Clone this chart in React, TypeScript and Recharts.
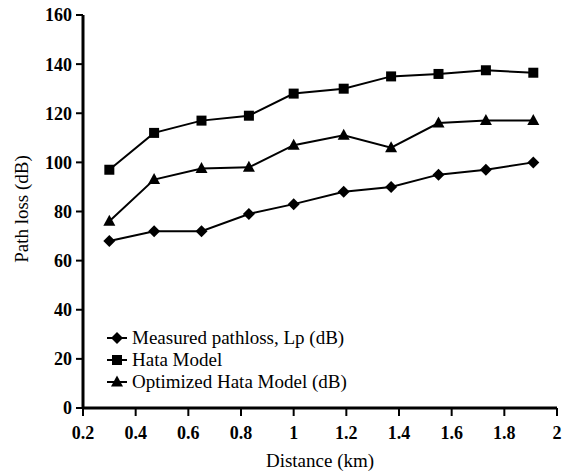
import React from 'react';
import { LineChart, Line, XAxis, YAxis, Legend } from 'recharts';

const distances = [0.3, 0.47, 0.65, 0.83, 1.0, 1.19, 1.37, 1.55, 1.73, 1.91];
const measured = [68, 72, 72, 79, 83, 88, 90, 95, 97, 100];
const hata = [97, 112, 117, 119, 128, 130, 135, 136, 137.5, 136.5];
const optimized = [76, 93, 97.5, 98, 107, 111, 106, 116, 117, 117];
const xTicks = [0.2, 0.4, 0.6, 0.8, 1, 1.2, 1.4, 1.6, 1.8, 2];
const yTicks = [0, 20, 40, 60, 80, 100, 120, 140, 160];
const seriesNames = ['Measured pathloss, Lp (dB)', 'Hata Model', 'Optimized Hata Model (dB)'];

const data = distances.map((d, i) => ({ d, measured: measured[i], hata: hata[i], optimized: optimized[i] }));

const FONT = 'Liberation Serif';

const Diamond = ({ cx, cy }: any) => (
  <polygon points={`${cx},${cy - 6} ${cx + 6},${cy} ${cx},${cy + 6} ${cx - 6},${cy}`} fill="#000" />
);
const Square = ({ cx, cy }: any) => <rect x={cx - 5} y={cy - 5} width={10} height={10} fill="#000" />;
const Triangle = ({ cx, cy }: any) => (
  <polygon points={`${cx},${cy - 6.5} ${cx + 6},${cy + 4.5} ${cx - 6},${cy + 4.5}`} fill="#000" />
);

const shapes = [Diamond, Square, Triangle];

const LegendContent = () => (
  <div style={{ fontFamily: FONT, fontSize: 19, color: '#000' }}>
    {seriesNames.map((name, i) => {
      const S = shapes[i];
      return (
        <div key={name} style={{ display: 'flex', alignItems: 'center', height: 22, whiteSpace: 'nowrap' }}>
          <svg width={24} height={22} style={{ display: 'block' }}>
            <line x1={2} y1={11} x2={22} y2={11} stroke="#000" strokeWidth={2} />
            <S cx={12} cy={11} />
          </svg>
          <span style={{ marginLeft: 3, lineHeight: '22px' }}>{name}</span>
        </div>
      );
    })}
  </div>
);

const YLabel = () => {
  const cy = 209;
  return (
    <text x={28} y={cy} transform={`rotate(-90, 28, ${cy})`} textAnchor="middle" fontFamily={FONT} fontSize={19} fill="#000">
      Path loss (dB)
    </text>
  );
};

const XLabel = ({ viewBox }: any) => {
  const cx = viewBox ? viewBox.x + viewBox.width / 2 : 320;
  return (
    <text x={cx} y={467} textAnchor="middle" fontFamily={FONT} fontSize={19} fill="#000">
      Distance (km)
    </text>
  );
};

export default function App() {
  return (
    <div style={{ position: 'absolute', left: 0, top: 0, background: '#fff' }}>
      <LineChart width={568} height={476} data={data} margin={{ top: 15, right: 11, left: 0, bottom: 0 }}>
        <XAxis
          dataKey="d"
          type="number"
          domain={[0.2, 2]}
          ticks={xTicks}
          height={68}
          tickSize={8}
          tickMargin={10}
          axisLine={{ stroke: '#000', strokeWidth: 3 }}
          tickLine={{ stroke: '#000', strokeWidth: 2 }}
          tick={{ fill: '#000', fontFamily: FONT, fontSize: 18, fontWeight: 'bold' }}
          interval={0}
          label={<XLabel />}
        />
        <YAxis
          type="number"
          domain={[0, 160]}
          ticks={yTicks}
          width={83}
          tickSize={7}
          tickMargin={4}
          axisLine={{ stroke: '#000', strokeWidth: 3 }}
          tickLine={{ stroke: '#000', strokeWidth: 2 }}
          tick={{ fill: '#000', fontFamily: FONT, fontSize: 18, fontWeight: 'bold' }}
          interval={0}
          label={<YLabel />}
        />
        <Legend
          layout="horizontal"
          align="center"
          verticalAlign="middle"
          content={<LegendContent />}
          wrapperStyle={{ position: 'absolute', left: 105, top: 327, width: 'auto', height: 'auto' }}
        />
        <Line dataKey="measured" name={seriesNames[0]} stroke="#000" strokeWidth={2} dot={<Diamond />} isAnimationActive={false} />
        <Line dataKey="hata" name={seriesNames[1]} stroke="#000" strokeWidth={2} dot={<Square />} isAnimationActive={false} />
        <Line dataKey="optimized" name={seriesNames[2]} stroke="#000" strokeWidth={2} dot={<Triangle />} isAnimationActive={false} />
      </LineChart>
    </div>
  );
}
